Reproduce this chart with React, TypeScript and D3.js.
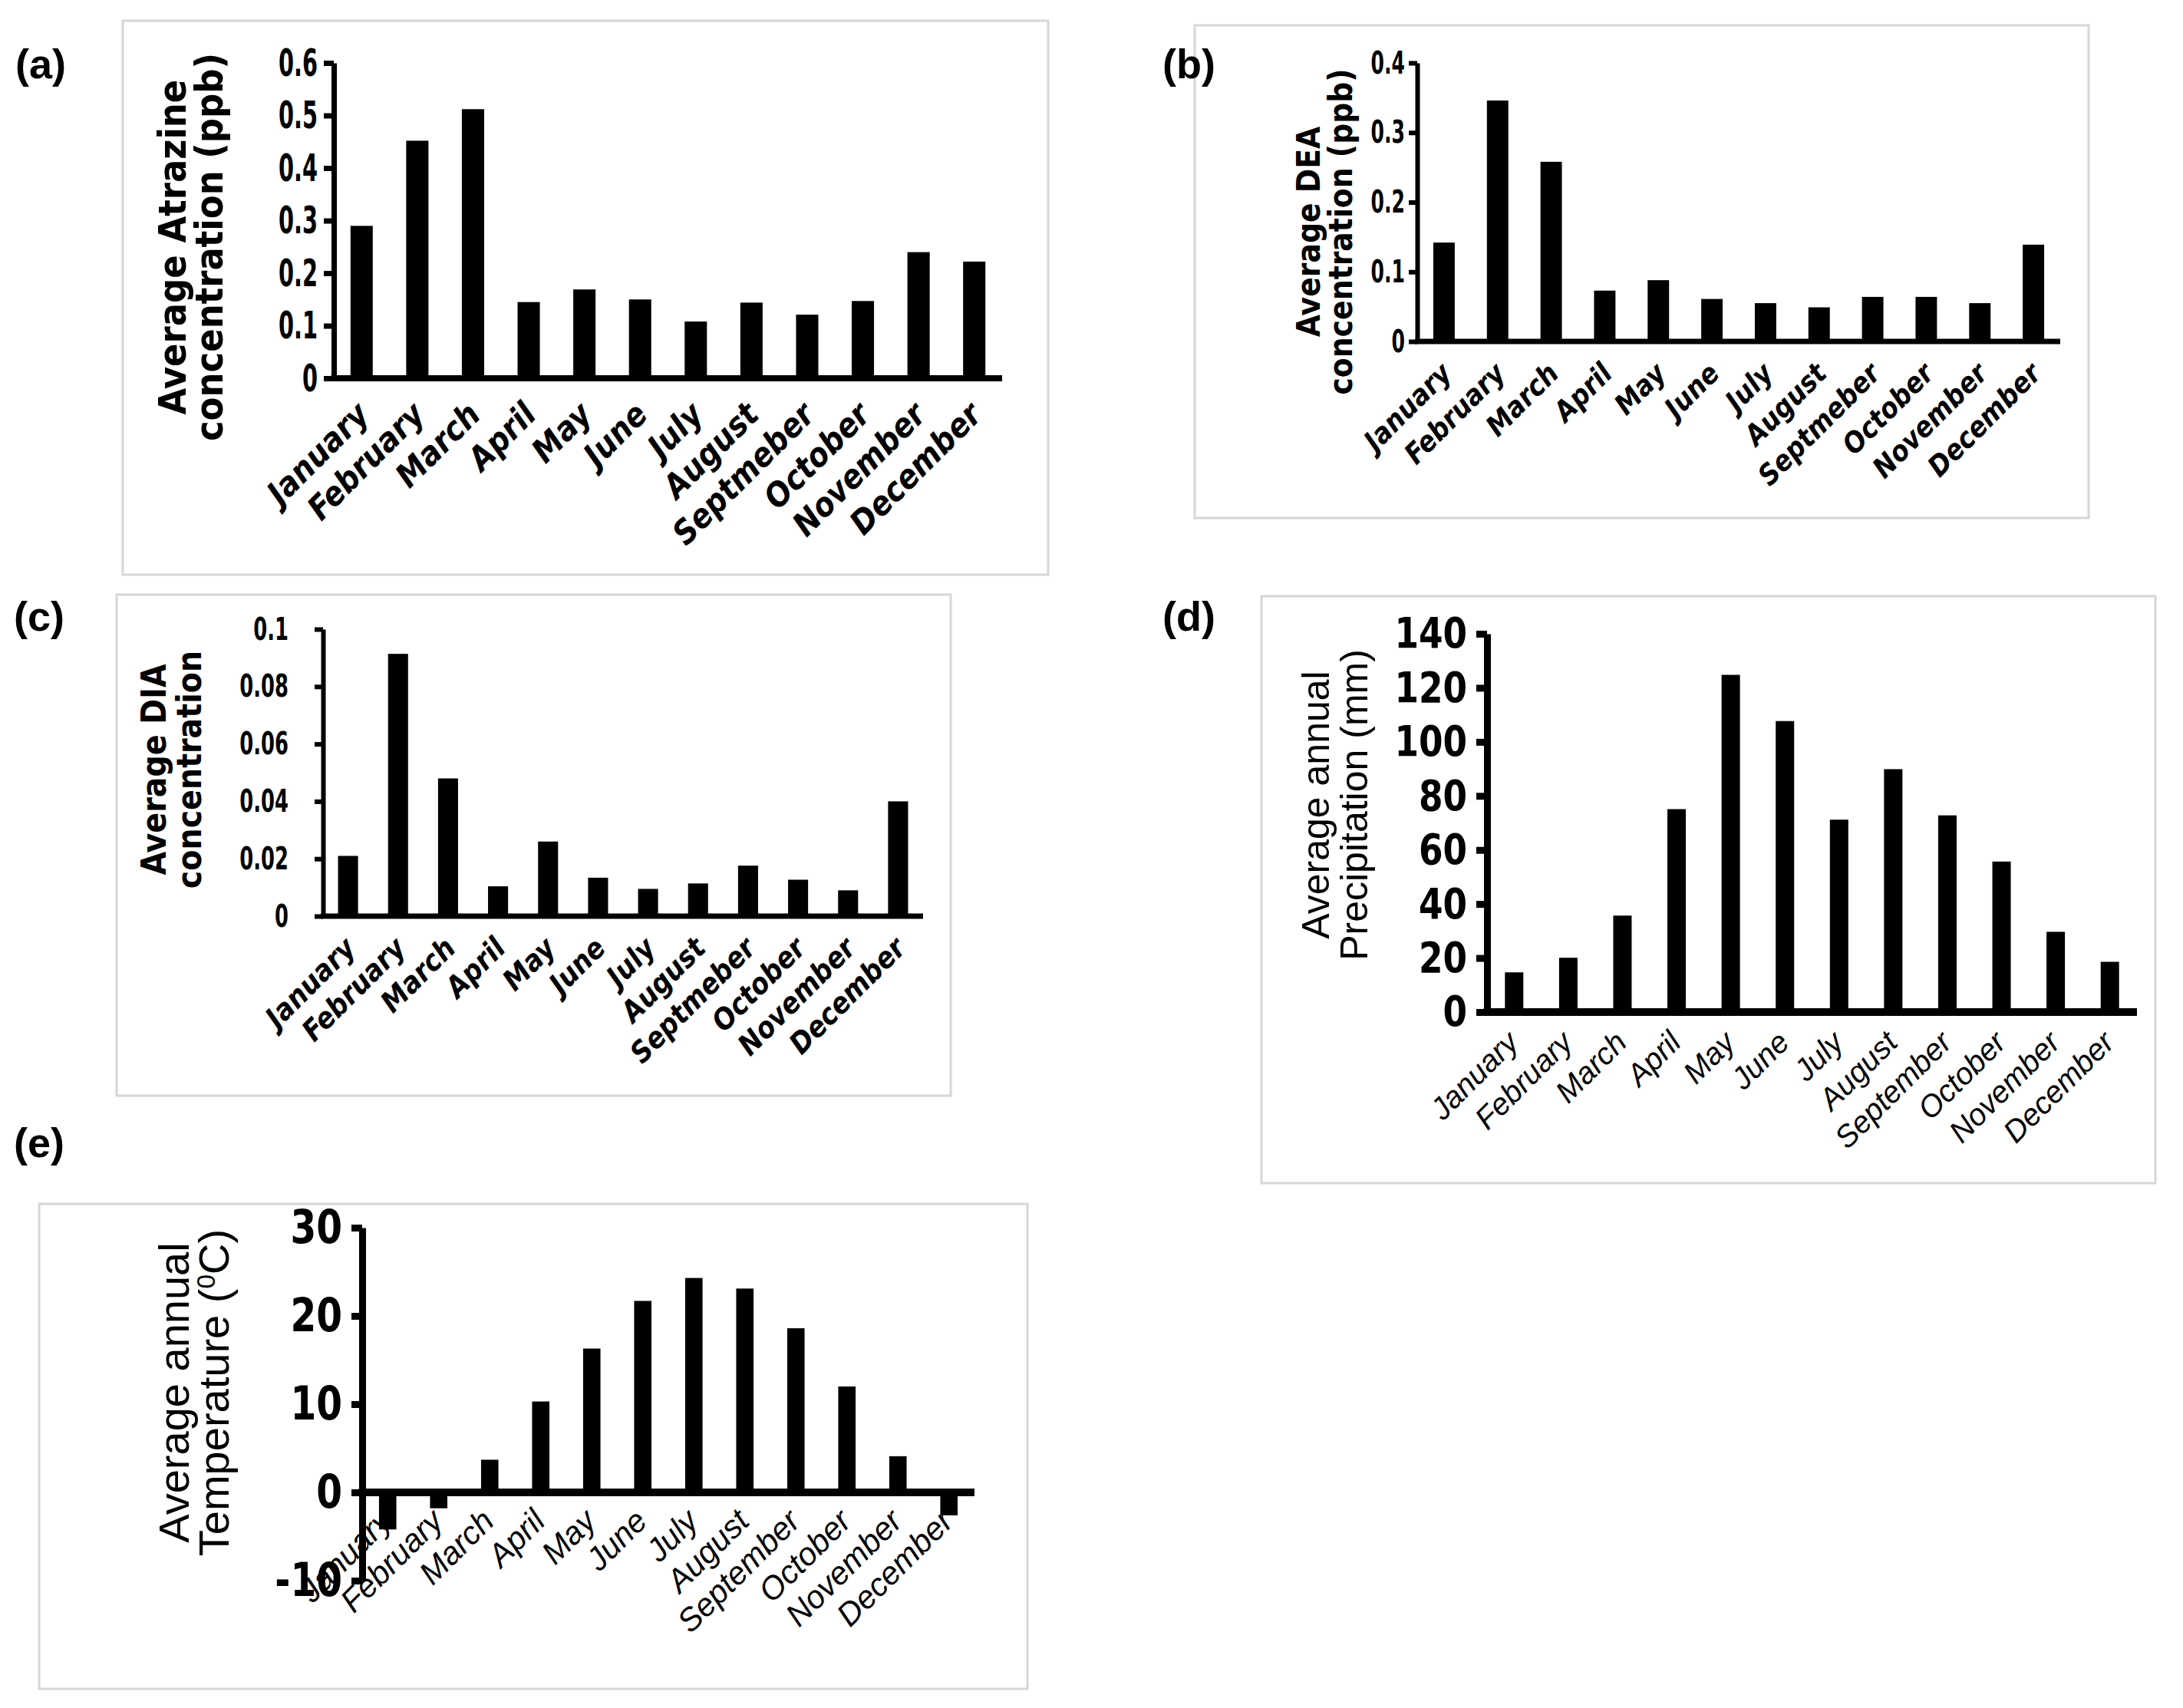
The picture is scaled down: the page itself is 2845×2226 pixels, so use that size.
import React, { useEffect, useRef } from 'react';
import * as d3 from 'd3';

// month names as printed on each figure (a-c carry the "Septmeber" typo)
const monthsTypo = ['January', 'February', 'March', 'April', 'May', 'June', 'July', 'August', 'Septmeber', 'October', 'November', 'December'];
const months = ['January', 'February', 'March', 'April', 'May', 'June', 'July', 'August', 'September', 'October', 'November', 'December'];

const atrazine = [0.29, 0.452, 0.512, 0.145, 0.169, 0.15, 0.108, 0.144, 0.121, 0.147, 0.24, 0.222];
const dea = [0.142, 0.346, 0.258, 0.073, 0.088, 0.061, 0.055, 0.049, 0.064, 0.064, 0.055, 0.139];
const dia = [0.021, 0.0914, 0.048, 0.0104, 0.026, 0.0134, 0.0095, 0.0114, 0.0176, 0.0127, 0.009, 0.04];
const precipitation = [14.7, 20.1, 35.7, 75.1, 124.8, 107.7, 71.2, 89.9, 72.8, 55.7, 29.7, 18.6];
const temperature = [-4.2, -1.8, 3.7, 10.3, 16.3, 21.7, 24.3, 23.1, 18.6, 12.0, 4.1, -2.6];

const atrazineTicks = [0, 0.1, 0.2, 0.3, 0.4, 0.5, 0.6];
const deaTicks = [0, 0.1, 0.2, 0.3, 0.4];
const diaTicks = [0, 0.02, 0.04, 0.06, 0.08, 0.1];
const precipTicks = [0, 20, 40, 60, 80, 100, 120, 140];
const tempTicks = [-10, 0, 10, 20, 30];

const COND = "'DejaVu Sans Condensed', 'Liberation Sans Narrow', 'DejaVu Sans', sans-serif";
const ARIAL = "'Liberation Sans', Arial, sans-serif";

type Panel = {
  tag: string; tagX: number; tagY: number;
  box: [number, number, number, number];
  left: number; right: number; top: number; bottom: number;
  ticks: number[]; values: number[]; names: string[];
  titles: string[]; titleX: number[]; titleY: number; titleSize: number; titleFont: string; titleWeight: string;
  tickSize: number; tickLen: number; tickPad: number; tickSx: number;
  monthSize: number; monthFont: string; monthWeight: string;
  monthDx: number; monthDy: number; barRatio: number; stroke: number;
  superTitle?: boolean;
};

const panels: Panel[] = [
  {
    tag: '(a)', tagX: 20, tagY: 102, box: [160, 27, 1366, 749],
    left: 435, right: 1306, top: 82, bottom: 493,
    ticks: atrazineTicks, values: atrazine, names: monthsTypo,
    titles: ['Average Atrazine', 'concentration (ppb)'], titleX: [242, 290], titleY: 322, titleSize: 50, titleFont: COND, titleWeight: 'bold',
    tickSize: 50, tickLen: 13, tickPad: 8, tickSx: 0.64,
    monthSize: 43, monthFont: COND, monthWeight: 'bold', monthDx: 12, monthDy: 50, barRatio: 0.4, stroke: 7,
  },
  {
    tag: '(b)', tagX: 1515, tagY: 102, box: [1557, 33, 2722, 675],
    left: 1847, right: 2685, top: 82, bottom: 445,
    ticks: deaTicks, values: dea, names: monthsTypo,
    titles: ['Average DEA', 'concentration (ppb)'], titleX: [1720, 1762], titleY: 302, titleSize: 42, titleFont: COND, titleWeight: 'bold',
    tickSize: 41, tickLen: 11, tickPad: 5, tickSx: 0.68,
    monthSize: 37, monthFont: COND, monthWeight: 'bold', monthDx: 12, monthDy: 44, barRatio: 0.4, stroke: 6,
  },
  {
    tag: '(c)', tagX: 18, tagY: 822, box: [152, 775, 1239, 1428],
    left: 421, right: 1203, top: 820, bottom: 1194,
    ticks: diaTicks, values: dia, names: monthsTypo,
    titles: ['Average DIA', 'concentration'], titleX: [216, 262], titleY: 1003, titleSize: 44, titleFont: COND, titleWeight: 'bold',
    tickSize: 41, tickLen: 11, tickPad: 34, tickSx: 0.7,
    monthSize: 38, monthFont: COND, monthWeight: 'bold', monthDx: 12, monthDy: 44, barRatio: 0.4, stroke: 6,
  },
  {
    tag: '(d)', tagX: 1515, tagY: 822, box: [1644, 777, 2809, 1542],
    left: 1938, right: 2785, top: 826, bottom: 1319,
    ticks: precipTicks, values: precipitation, names: months,
    titles: ['Average annual', 'Precipitation (mm)'], titleX: [1732, 1782], titleY: 1049, titleSize: 50, titleFont: ARIAL, titleWeight: 'normal',
    tickSize: 56, tickLen: 14, tickPad: 12, tickSx: 0.9,
    monthSize: 40, monthFont: ARIAL, monthWeight: 'normal', monthDx: 8, monthDy: 42, barRatio: 0.34, stroke: 9,
  },
  {
    tag: '(e)', tagX: 18, tagY: 1508, box: [51, 1569, 1339, 2201],
    left: 472, right: 1270, top: 1600, bottom: 2060,
    ticks: tempTicks, values: temperature, names: months,
    titles: ['Average annual', 'Temperature ('], titleX: [246, 298], titleY: 1815, titleSize: 56, titleFont: ARIAL, titleWeight: 'normal',
    tickSize: 60, tickLen: 14, tickPad: 12, tickSx: 0.9,
    monthSize: 42, monthFont: ARIAL, monthWeight: 'normal', monthDx: 8, monthDy: 40, barRatio: 0.34, stroke: 9,
    superTitle: true,
  },
];

function drawPanel(svg: d3.Selection<SVGSVGElement, unknown, null, undefined>, p: Panel) {
  const g = svg.append('g');
  const [bx0, by0, bx1, by1] = p.box;
  g.append('rect')
    .attr('x', bx0).attr('y', by0)
    .attr('width', bx1 - bx0).attr('height', by1 - by0)
    .attr('fill', '#fff').attr('stroke', '#d6d6d6').attr('stroke-width', 3);

  g.append('text')
    .attr('x', p.tagX).attr('y', p.tagY)
    .attr('font-family', ARIAL).attr('font-weight', 'bold').attr('font-size', 54)
    .text(p.tag);

  const y = d3.scaleLinear()
    .domain([p.ticks[0], p.ticks[p.ticks.length - 1]])
    .range([p.bottom, p.top]);
  const x = d3.scaleBand<string>()
    .domain(p.names)
    .range([p.left, p.right])
    .paddingInner(1 - p.barRatio)
    .paddingOuter((1 - p.barRatio) / 2);

  const zero = y(0);

  // bars
  g.selectAll('rect.bar')
    .data(p.values)
    .enter()
    .append('rect')
    .attr('class', 'bar')
    .attr('x', (_, i) => x(p.names[i]) as number)
    .attr('width', x.bandwidth())
    .attr('y', d => Math.min(y(d), zero))
    .attr('height', d => Math.abs(y(d) - zero))
    .attr('fill', '#000');

  // y axis
  const yAxis = g.append('g')
    .attr('transform', `translate(${p.left},0)`)
    .call(d3.axisLeft(y).tickValues(p.ticks).tickSize(p.tickLen).tickSizeOuter(0).tickPadding(p.tickPad).tickFormat(d => String(d)));
  yAxis.select('.domain').attr('stroke', '#000').attr('stroke-width', p.stroke);
  yAxis.selectAll('.tick line').attr('stroke', '#000').attr('stroke-width', p.stroke);
  yAxis.selectAll('.tick text')
    .attr('fill', '#000')
    .attr('font-family', COND)
    .attr('font-weight', 'bold')
    .attr('font-size', p.tickSize)
    .attr('x', -(p.tickLen + p.tickPad) / p.tickSx)
    .attr('transform', `scale(${p.tickSx},1)`);

  // x axis line at zero
  g.append('line')
    .attr('x1', p.left - p.stroke / 2).attr('x2', x.range()[1])
    .attr('y1', zero).attr('y2', zero)
    .attr('stroke', '#000').attr('stroke-width', p.stroke + 1);

  // month labels
  g.selectAll('text.month')
    .data(p.names)
    .enter()
    .append('text')
    .attr('class', 'month')
    .attr('text-anchor', 'end')
    .attr('transform', d => `translate(${(x(d) as number) + x.bandwidth() / 2 + p.monthDx},${zero + p.monthDy}) rotate(-45)`)
    .attr('font-family', p.monthFont)
    .attr('font-weight', p.monthWeight)
    .attr('font-style', 'italic')
    .attr('font-size', p.monthSize)
    .text(d => d);

  // axis title
  p.titles.forEach((t, i) => {
    const txt = g.append('text')
      .attr('text-anchor', 'middle')
      .attr('transform', `translate(${p.titleX[i]},${p.titleY}) rotate(-90)`)
      .attr('font-family', p.titleFont)
      .attr('font-weight', p.titleWeight)
      .attr('font-size', p.titleSize)
      .text(t);
    if (p.superTitle && i === 1) {
      txt.append('tspan').attr('baseline-shift', 'super').attr('font-size', p.titleSize * 0.6).text('0');
      txt.append('tspan').text('C)');
    }
  });
}

const App = () => {
  const ref = useRef<SVGSVGElement>(null);

  useEffect(() => {
    if (!ref.current) return;
    const svg = d3.select(ref.current);
    svg.selectAll('*').remove();
    svg.append('rect').attr('width', 2845).attr('height', 2226).attr('fill', '#fff');
    panels.forEach(p => drawPanel(svg, p));
  }, []);

  return (
    <svg
      ref={ref}
      width={2845}
      height={2226}
      style={{ position: 'absolute', left: 0, top: 0, display: 'block' }}
    />
  );
};

export default App;
